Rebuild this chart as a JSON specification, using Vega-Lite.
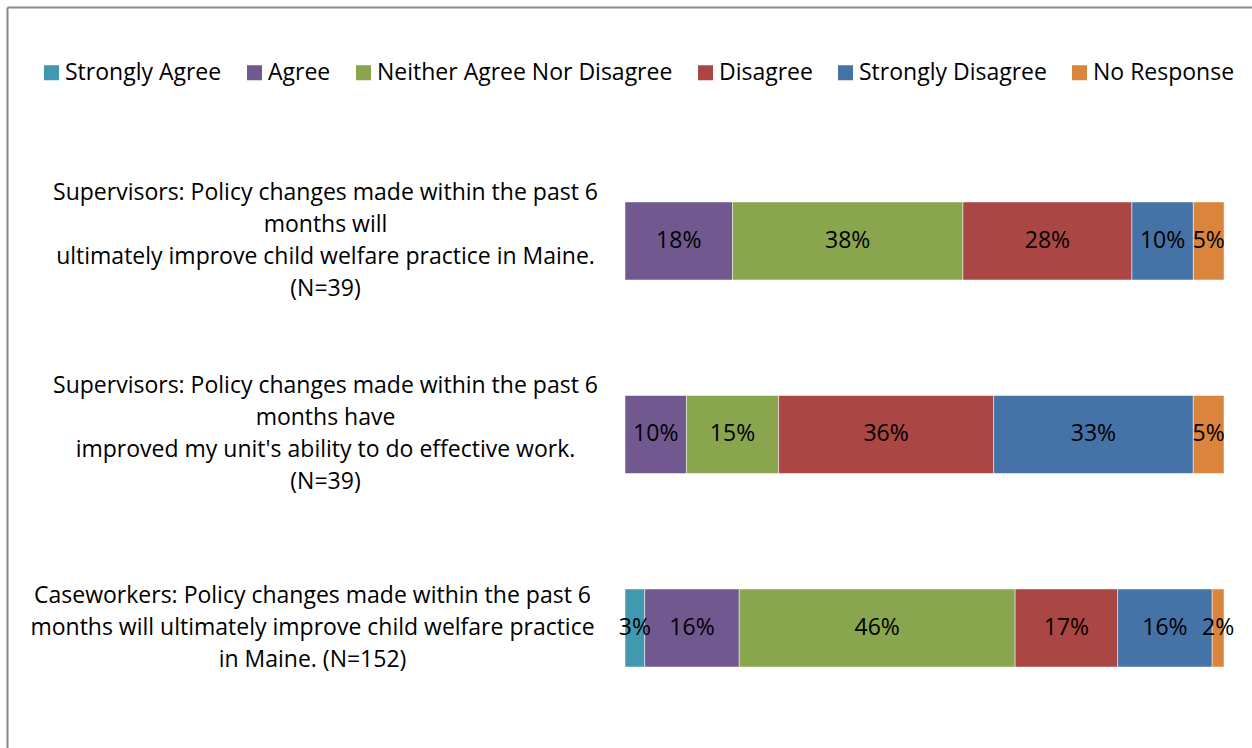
{
  "$schema": "https://vega.github.io/schema/vega-lite/v6.json",
  "width": 1245,
  "height": 741,
  "padding": {"left": 7, "top": 7, "right": 0, "bottom": 0},
  "autosize": {"type": "none"},
  "background": "white",
  "config": {
    "view": {"stroke": null},
    "font": "Open Sans"
  },
  "data": {
    "values": [
      {"q": "Supervisors: Policy changes made within the past 6|months will|ultimately improve child welfare practice in Maine.|(N=39)", "r": "Agree", "k": 2, "v": 0.1795},
      {"q": "Supervisors: Policy changes made within the past 6|months will|ultimately improve child welfare practice in Maine.|(N=39)", "r": "Neither Agree Nor Disagree", "k": 3, "v": 0.3846},
      {"q": "Supervisors: Policy changes made within the past 6|months will|ultimately improve child welfare practice in Maine.|(N=39)", "r": "Disagree", "k": 4, "v": 0.2821},
      {"q": "Supervisors: Policy changes made within the past 6|months will|ultimately improve child welfare practice in Maine.|(N=39)", "r": "Strongly Disagree", "k": 5, "v": 0.1026},
      {"q": "Supervisors: Policy changes made within the past 6|months will|ultimately improve child welfare practice in Maine.|(N=39)", "r": "No Response", "k": 6, "v": 0.0513},
      {"q": "Supervisors: Policy changes made within the past 6|months have|improved my unit's ability to do effective work.|(N=39)", "r": "Agree", "k": 2, "v": 0.1026},
      {"q": "Supervisors: Policy changes made within the past 6|months have|improved my unit's ability to do effective work.|(N=39)", "r": "Neither Agree Nor Disagree", "k": 3, "v": 0.1538},
      {"q": "Supervisors: Policy changes made within the past 6|months have|improved my unit's ability to do effective work.|(N=39)", "r": "Disagree", "k": 4, "v": 0.3590},
      {"q": "Supervisors: Policy changes made within the past 6|months have|improved my unit's ability to do effective work.|(N=39)", "r": "Strongly Disagree", "k": 5, "v": 0.3333},
      {"q": "Supervisors: Policy changes made within the past 6|months have|improved my unit's ability to do effective work.|(N=39)", "r": "No Response", "k": 6, "v": 0.0513},
      {"q": "Caseworkers: Policy changes made within the past 6|months will ultimately improve child welfare practice|in Maine. (N=152)", "r": "Strongly Agree", "k": 1, "v": 0.0329},
      {"q": "Caseworkers: Policy changes made within the past 6|months will ultimately improve child welfare practice|in Maine. (N=152)", "r": "Agree", "k": 2, "v": 0.1579},
      {"q": "Caseworkers: Policy changes made within the past 6|months will ultimately improve child welfare practice|in Maine. (N=152)", "r": "Neither Agree Nor Disagree", "k": 3, "v": 0.4605},
      {"q": "Caseworkers: Policy changes made within the past 6|months will ultimately improve child welfare practice|in Maine. (N=152)", "r": "Disagree", "k": 4, "v": 0.1711},
      {"q": "Caseworkers: Policy changes made within the past 6|months will ultimately improve child welfare practice|in Maine. (N=152)", "r": "Strongly Disagree", "k": 5, "v": 0.1579},
      {"q": "Caseworkers: Policy changes made within the past 6|months will ultimately improve child welfare practice|in Maine. (N=152)", "r": "No Response", "k": 6, "v": 0.0197}
    ]
  },
  "encoding": {
    "y": {
      "field": "q",
      "type": "nominal",
      "sort": null,
      "title": null,
      "scale": {"paddingInner": 0.597, "paddingOuter": 0.713, "align": 0.7065},
      "axis": {
        "orient": "left",
        "domain": true,
        "domainColor": "#888888",
        "domainWidth": 2,
        "ticks": false,
        "tickSize": 0,
        "labelAlign": "center",
        "labelBaseline": "middle",
        "labelPadding": {"condition": {"test": "indexof(datum.value, 'Caseworkers') === 0", "value": -305}, "value": -318},
        "labelOffset": {"condition": {"test": "indexof(datum.value, 'Caseworkers') === 0", "value": -32}, "value": -48},
        "labelFontSize": 23,
        "labelLineHeight": 32,
        "labelLimit": 0,
        "labelColor": "#000000",
        "labelFont": "Open Sans",
        "labelExpr": "split(datum.label, '|')",
        "grid": false
      }
    }
  },
  "layer": [
    {
      "mark": {"type": "bar", "stroke": "white", "strokeWidth": 0.5},
      "encoding": {
        "x": {
          "field": "v",
          "type": "quantitative",
          "stack": "zero",
          "title": null,
          "scale": {"domain": [-1.0317, 1.0467], "nice": false, "zero": false},
          "axis": {
            "orient": "top",
            "domain": true,
            "domainColor": "#888888",
            "domainWidth": 2,
            "labels": false,
            "ticks": false,
            "grid": false
          }
        },
        "color": {
          "field": "r",
          "type": "nominal",
          "title": null,
          "scale": {
            "domain": ["Strongly Agree", "Agree", "Neither Agree Nor Disagree", "Disagree", "Strongly Disagree", "No Response"],
            "range": ["#4198AF", "#71588F", "#89A54E", "#AA4643", "#4572A7", "#DB843D"]
          },
          "legend": {
            "orient": "none",
            "direction": "horizontal",
            "columns": 6,
            "legendX": 33,
            "legendY": 54,
            "symbolType": "square",
            "symbolSize": 225,
            "symbolStrokeWidth": 0,
            "symbolOpacity": 1,
            "labelFontSize": 23,
            "labelFont": "Open Sans",
            "labelColor": "#000000",
            "labelOffset": 2,
            "columnPadding": 21,
            "labelLimit": 0,
            "padding": 0
          }
        },
        "order": {"field": "k", "type": "quantitative"}
      }
    },
    {
      "mark": {"type": "text", "fontSize": 23, "font": "Open Sans", "color": "#000000", "baseline": "middle", "align": "center"},
      "encoding": {
        "x": {"field": "v", "type": "quantitative", "stack": "zero", "bandPosition": 0.5},
        "text": {"field": "v", "type": "quantitative", "format": ".0%"},
        "order": {"field": "k", "type": "quantitative"}
      }
    }
  ]
}
